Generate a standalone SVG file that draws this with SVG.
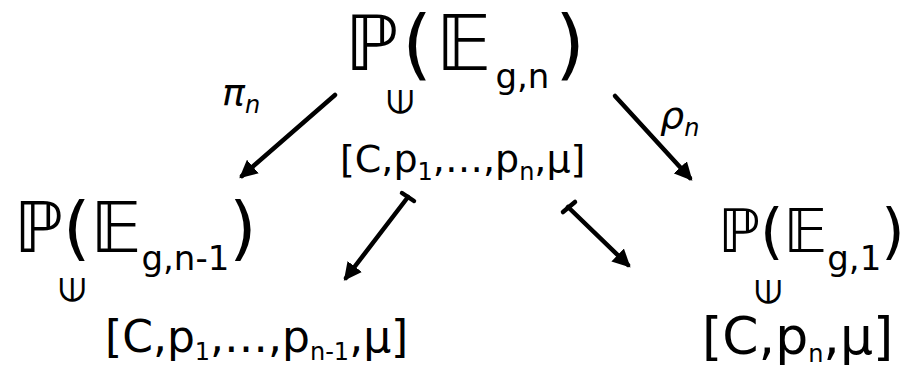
<svg xmlns="http://www.w3.org/2000/svg" width="907" height="376" viewBox="0 0 907 376">
<style>
.t{font-family:"DejaVu Sans","Noto Sans",sans-serif;fill:#000}
.big{font-size:76px;letter-spacing:4px}
.bigl{font-size:70px}
.bigr{font-size:60px}
.sub{font-size:34px;letter-spacing:0}
.ssub{font-size:24px}
.lbl{font-size:38px;font-style:italic}
.el{font-size:34px}
.c line{stroke:#000;stroke-width:4.5;stroke-linecap:round}
</style>
<defs>
<marker id="ah" viewBox="0 0 10 10" refX="8" refY="5" markerWidth="4" markerHeight="4" orient="auto">
<path d="M0,0 L10,5 L0,10 z" fill="#000"/>
</marker>
</defs>
<rect width="907" height="376" fill="#fff"/>
<g id="top">
<text class="t big" x="345" y="70">ℙ(𝔼<tspan class="sub" dy="18">g,n</tspan><tspan dx="6" dy="-18">)</tspan></text>
<text class="t el" x="0" y="0" transform="translate(400,102) rotate(-90)" text-anchor="middle" dominant-baseline="central">∈</text>
<text class="t" style="font-size:38px" x="340" y="172">[C,p<tspan class="ssub" dy="8">1</tspan><tspan dy="-8">,…,p</tspan><tspan class="ssub" dy="8">n</tspan><tspan dy="-8">,μ]</tspan></text>
</g>
<g id="left">
<text class="t bigl" x="14" y="252">ℙ(𝔼<tspan class="sub" dy="18">g,n-1</tspan><tspan dy="-18">)</tspan></text>
<text class="t el" x="0" y="0" transform="translate(72,290) rotate(-90)" text-anchor="middle" dominant-baseline="central">∈</text>
<text class="t" style="font-size:44px" x="105" y="352">[C,p<tspan class="ssub" dy="8">1</tspan><tspan dy="-8">,…,p</tspan><tspan class="ssub" dy="8">n-1</tspan><tspan dy="-8">,μ]</tspan></text>
</g>
<g id="right">
<text class="t bigr" x="718" y="252">ℙ(𝔼<tspan class="sub" dy="18">g,1</tspan><tspan dy="-18">)</tspan></text>
<text class="t el" x="0" y="0" transform="translate(768,292) rotate(-90)" text-anchor="middle" dominant-baseline="central">∈</text>
<text class="t" style="font-size:52px" x="702" y="354">[C,p<tspan class="ssub" dy="8">n</tspan><tspan dy="-8">,μ]</tspan></text>
</g>
<g id="connectors" class="c">
<line x1="335" y1="95" x2="242" y2="176" marker-end="url(#ah)"/>
<text class="t lbl" x="222" y="105">π<tspan class="ssub" dy="8">n</tspan></text>
<line x1="615" y1="96" x2="690" y2="178" marker-end="url(#ah)"/>
<text class="t lbl" x="660" y="128">ρ<tspan class="ssub" dy="8">n</tspan></text>
<line x1="408" y1="197" x2="346" y2="278" marker-end="url(#ah)"/>
<line x1="402" y1="193" x2="414" y2="201"/>
<line x1="568" y1="207" x2="628" y2="265" marker-end="url(#ah)"/>
<line x1="563" y1="212" x2="575" y2="202"/>
</g>
</svg>
